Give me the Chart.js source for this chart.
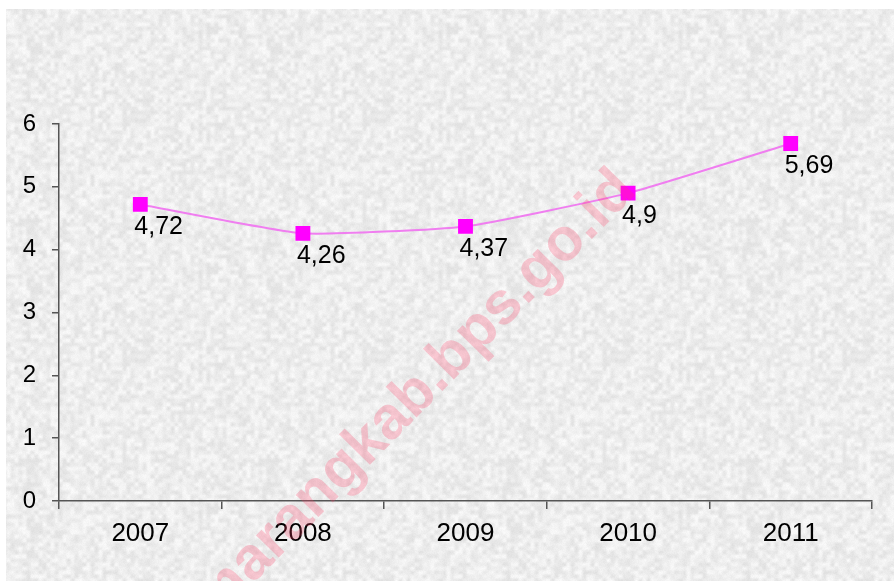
<!DOCTYPE html>
<html>
<head>
<meta charset="utf-8">
<script src="https://cdn.jsdelivr.net/npm/chart.js@4.4.1/dist/chart.umd.min.js"></script>
<style>
  html, body { margin: 0; padding: 0; background: #ffffff; }
  #wrap { width: 894px; height: 581px; position: relative; }
</style>
</head>
<body>
<div id="wrap"><canvas id="c" width="894" height="581"></canvas></div>
<script>
// Yearly values, shown with a comma as the decimal separator
const years = ['2007', '2008', '2009', '2010', '2011'];
const values = [4.72, 4.26, 4.37, 4.9, 5.69];
const yTicks = [0, 1, 2, 3, 4, 5, 6];
const siteMark = 'semarangkab.bps.go.id';

const FONT = 'Arial, "Liberation Sans", Helvetica, sans-serif';

// Deterministic hash in [0,1)
function hash(x, y) {
  let h = (x * 374761393 + y * 668265263) | 0;
  h = Math.imul(h ^ (h >>> 13), 1274126177);
  h = h ^ (h >>> 16);
  return ((h >>> 0) % 10000) / 10000;
}

// Soft grey paper texture: smooth value noise plus fine grain, tiling seamlessly
function makeTexture() {
  const size = 240, cell = 4, cells = size / cell;
  const tile = document.createElement('canvas');
  tile.width = size; tile.height = size;
  const t = tile.getContext('2d');
  const img = t.createImageData(size, size);
  const lerp = (a, b, f) => a + (b - a) * f;
  const sm = f => f * f * (3 - 2 * f);
  for (let y = 0; y < size; y++) {
    for (let x = 0; x < size; x++) {
      const cx = Math.floor(x / cell), cy = Math.floor(y / cell);
      const fx = sm((x % cell) / cell), fy = sm((y % cell) / cell);
      const x1 = (cx + 1) % cells, y1 = (cy + 1) % cells;
      const v = lerp(lerp(hash(cx, cy), hash(x1, cy), fx), lerp(hash(cx, y1), hash(x1, y1), fx), fy);
      const grain = hash(x + 977, y + 331);
      const g = Math.round(222 + v * 24 + grain * 6);
      const i = (y * size + x) * 4;
      img.data[i] = g; img.data[i + 1] = g; img.data[i + 2] = g; img.data[i + 3] = 255;
    }
  }
  t.putImageData(img, 0, 0);
  return tile;
}

const backdrop = {
  id: 'backdrop',
  beforeDraw(chart) {
    const ctx = chart.ctx;
    ctx.save();
    ctx.fillStyle = '#ffffff';
    ctx.fillRect(0, 0, chart.width, chart.height);
    ctx.fillStyle = ctx.createPattern(makeTexture(), 'repeat');
    ctx.fillRect(6, 9, chart.width - 6, chart.height - 9);
    ctx.restore();
  }
};

const pointLabels = {
  id: 'pointLabels',
  afterDatasetsDraw(chart) {
    const ctx = chart.ctx;
    const meta = chart.getDatasetMeta(0);
    ctx.save();
    ctx.font = '25px ' + FONT;
    ctx.fillStyle = '#000000';
    ctx.textAlign = 'left';
    ctx.textBaseline = 'middle';
    meta.data.forEach((pt, i) => {
      const txt = String(values[i]).replace('.', ',');
      ctx.fillText(txt, pt.x - 6, pt.y + 23);
    });
    ctx.restore();
  }
};

const siteStamp = {
  id: 'siteStamp',
  afterDraw(chart) {
    const ctx = chart.ctx;
    ctx.save();
    ctx.translate(638, 192);
    ctx.rotate(-45.5 * Math.PI / 180);
    ctx.font = 'bold 60px ' + FONT;
    ctx.fillStyle = 'rgba(255, 60, 100, 0.25)';
    ctx.textAlign = 'right';
    ctx.textBaseline = 'alphabetic';
    ctx.fillText(siteMark, 0, 0);
    ctx.restore();
  }
};

new Chart(document.getElementById('c'), {
  type: 'line',
  data: {
    labels: years,
    datasets: [{
      data: values,
      borderColor: '#f07ef0',
      borderWidth: 2,
      tension: 0.15,
      pointStyle: 'rect',
      pointRadius: 10.5,
      pointHoverRadius: 10.5,
      pointBackgroundColor: '#ff00ff',
      pointBorderWidth: 0,
      fill: false
    }]
  },
  options: {
    responsive: false,
    animation: false,
    events: [],
    layout: { padding: { left: 0, top: 124, right: 22, bottom: 0 } },
    plugins: { legend: { display: false }, tooltip: { enabled: false } },
    scales: {
      x: {
        type: 'category',
        offset: true,
        grid: { display: true, drawOnChartArea: false, offset: true, tickLength: 8, color: '#555555', lineWidth: 1.5 },
        border: { display: true, color: '#555555', width: 1.5 },
        ticks: { color: '#000000', font: { family: FONT, size: 26 }, padding: 9 },
        afterFit(s) { s.height = 80; }
      },
      y: {
        min: 0, max: 6,
        afterBuildTicks(s) { s.ticks = yTicks.map(v => ({ value: v })); },
        grid: { display: true, drawOnChartArea: false, tickLength: 7, color: '#555555', lineWidth: 1.5 },
        border: { display: true, color: '#555555', width: 1.5 },
        ticks: { color: '#000000', font: { family: FONT, size: 24 }, padding: 16 },
        afterFit(s) { s.width = 59; }
      }
    }
  },
  plugins: [backdrop, pointLabels, siteStamp]
});
</script>
</body>
</html>
